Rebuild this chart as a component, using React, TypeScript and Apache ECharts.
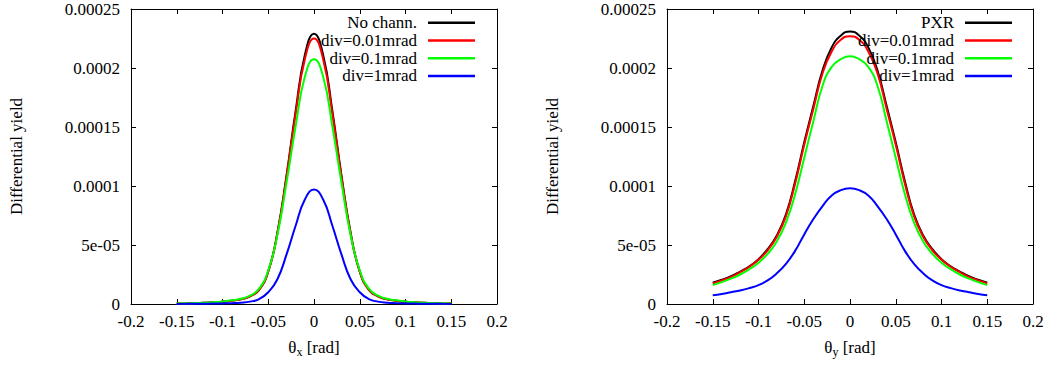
import React, { useEffect, useRef } from "react";
import * as echarts from "echarts";

// Angle grid (rad) for all curves
const theta = [
  -0.15, -0.14, -0.13, -0.12, -0.11, -0.1, -0.09, -0.08, -0.07, -0.06, -0.05, -0.04, -0.03, -0.02, -0.01,
  0,
  0.01, 0.02, 0.03, 0.04, 0.05, 0.06, 0.07, 0.08, 0.09, 0.1, 0.11, 0.12, 0.13, 0.14, 0.15,
];

// Left panel (theta_x)
const noChannX = [
  0.35e-6, 0.5e-6, 0.7e-6, 1.0e-6, 1.4e-6, 2.0e-6, 2.8e-6, 4e-6, 6.5e-6, 12e-6, 27.5e-6, 60.5e-6, 109e-6, 164e-6, 211e-6,
  229e-6,
  211e-6, 164e-6, 109e-6, 60.5e-6, 27.5e-6, 12e-6, 6.5e-6, 4e-6, 2.8e-6, 2.0e-6, 1.4e-6, 1.0e-6, 0.7e-6, 0.5e-6, 0.35e-6,
];
const div001X = [
  0.35e-6, 0.5e-6, 0.7e-6, 1.0e-6, 1.4e-6, 2.0e-6, 2.8e-6, 4e-6, 6.5e-6, 12e-6, 27.5e-6, 60e-6, 108e-6, 161.5e-6, 207.5e-6,
  225e-6,
  207.5e-6, 161.5e-6, 108e-6, 60e-6, 27.5e-6, 12e-6, 6.5e-6, 4e-6, 2.8e-6, 2.0e-6, 1.4e-6, 1.0e-6, 0.7e-6, 0.5e-6, 0.35e-6,
];
const div01X = [
  0.4e-6, 0.55e-6, 0.8e-6, 1.1e-6, 1.55e-6, 2.2e-6, 3.1e-6, 4.4e-6, 7e-6, 13e-6, 28.5e-6, 58.5e-6, 103e-6, 151e-6, 192.5e-6,
  207.5e-6,
  192.5e-6, 151e-6, 103e-6, 58.5e-6, 28.5e-6, 13e-6, 7e-6, 4.4e-6, 3.1e-6, 2.2e-6, 1.55e-6, 1.1e-6, 0.8e-6, 0.55e-6, 0.4e-6,
];
const div1X = [
  0.08e-6, 0.12e-6, 0.18e-6, 0.25e-6, 0.35e-6, 0.5e-6, 0.7e-6, 1.1e-6, 2.0e-6, 4.2e-6, 10e-6, 21e-6, 42e-6, 66.5e-6, 88.5e-6,
  97e-6,
  88.5e-6, 66.5e-6, 42e-6, 21e-6, 10e-6, 4.2e-6, 2.0e-6, 1.1e-6, 0.7e-6, 0.5e-6, 0.35e-6, 0.25e-6, 0.18e-6, 0.12e-6, 0.08e-6,
];

// Right panel (theta_y)
const pxrY = [
  18e-6, 20.5e-6, 23.5e-6, 27.5e-6, 32e-6, 38e-6, 46.5e-6, 58e-6, 76e-6, 104e-6, 137e-6, 168e-6, 198e-6, 217.5e-6, 227.5e-6,
  231e-6,
  227.5e-6, 217.5e-6, 198e-6, 168e-6, 137e-6, 104e-6, 76e-6, 58e-6, 46.5e-6, 38e-6, 32e-6, 27.5e-6, 23.5e-6, 20.5e-6, 18e-6,
];
const div001Y = [
  17.5e-6, 20e-6, 23e-6, 27e-6, 31.5e-6, 37.5e-6, 45.5e-6, 57e-6, 74.5e-6, 102e-6, 135e-6, 165.5e-6, 195.5e-6, 214e-6, 224e-6,
  227e-6,
  224e-6, 214e-6, 195.5e-6, 165.5e-6, 135e-6, 102e-6, 74.5e-6, 57e-6, 45.5e-6, 37.5e-6, 31.5e-6, 27e-6, 23e-6, 20e-6, 17.5e-6,
];
const div01Y = [
  16e-6, 18.5e-6, 21.5e-6, 25e-6, 29.5e-6, 35e-6, 42.5e-6, 53e-6, 69e-6, 93e-6, 124e-6, 155e-6, 185e-6, 201e-6, 207.5e-6,
  210e-6,
  207.5e-6, 201e-6, 185e-6, 155e-6, 124e-6, 93e-6, 69e-6, 53e-6, 42.5e-6, 35e-6, 29.5e-6, 25e-6, 21.5e-6, 18.5e-6, 16e-6,
];
const div1Y = [
  7.5e-6, 8.5e-6, 10e-6, 11.5e-6, 13.5e-6, 16e-6, 20e-6, 26e-6, 34e-6, 45e-6, 59e-6, 72e-6, 83e-6, 92e-6, 96.5e-6,
  98e-6,
  96.5e-6, 92e-6, 83e-6, 72e-6, 59e-6, 45e-6, 34e-6, 26e-6, 20e-6, 16e-6, 13.5e-6, 11.5e-6, 10e-6, 8.5e-6, 7.5e-6,
];

const leftNames = ["No chann.", "div=0.01mrad", "div=0.1mrad", "div=1mrad"];
const rightNames = ["PXR", "div=0.01mrad", "div=0.1mrad", "div=1mrad"];
const colors = ["#000000", "#ff0000", "#00ff00", "#0000ff"];

const xTickLabels = ["-0.2", "-0.15", "-0.1", "-0.05", "0", "0.05", "0.1", "0.15", "0.2"];
const yTickLabels = ["0", "5e-05", "0.0001", "0.00015", "0.0002", "0.00025"];

const X_MIN = -0.2;
const X_MAX = 0.2;
const X_STEP = 0.05;
const Y_MIN = 0;
const Y_MAX = 0.00025;
const Y_STEP = 0.00005;

const FONT = "Liberation Serif";
const FS = 17;

export default function App() {
  const ref = useRef<HTMLDivElement>(null);

  useEffect(() => {
    if (!ref.current) return;
    const chart = echarts.init(ref.current, undefined, { renderer: "svg" });

    const lineColor = "#000";
    const makeX = (gridIndex: number, position: "bottom" | "top", main: boolean, axisLabelName: string) => ({
      type: "value" as const,
      gridIndex,
      position,
      min: X_MIN,
      max: X_MAX,
      interval: X_STEP,
      name: main ? axisLabelName : "",
      nameLocation: "middle" as const,
      nameGap: 33,
      nameTextStyle: {
        color: "#000",
        fontFamily: FONT,
        fontSize: FS,
        rich: {
          t: { fontFamily: FONT, fontSize: FS, color: "#000", verticalAlign: "middle" },
          s: { fontFamily: FONT, fontSize: 12, color: "#000", verticalAlign: "middle", padding: [9, 0, 0, 0] },
        },
      },
      axisLine: { show: true, onZero: false, lineStyle: { color: lineColor, width: 1 } },
      axisTick: { show: true, inside: true, length: 5, lineStyle: { color: lineColor, width: 1 } },
      axisLabel: {
        show: main,
        margin: 9,
        color: "#000",
        fontFamily: FONT,
        fontSize: FS,
        formatter: (v: number) => xTickLabels[Math.round((v - X_MIN) / X_STEP)] ?? "",
      },
      splitLine: { show: false },
    });

    const makeY = (gridIndex: number, position: "left" | "right", main: boolean) => ({
      type: "value" as const,
      gridIndex,
      position,
      min: Y_MIN,
      max: Y_MAX,
      interval: Y_STEP,
      name: main ? "Differential yield" : "",
      nameLocation: "middle" as const,
      nameGap: 106,
      nameTextStyle: { color: "#000", fontFamily: FONT, fontSize: FS },
      axisLine: { show: true, onZero: false, lineStyle: { color: lineColor, width: 1 } },
      axisTick: { show: true, inside: true, length: 5, lineStyle: { color: lineColor, width: 1 } },
      axisLabel: {
        show: main,
        margin: 11,
        color: "#000",
        fontFamily: FONT,
        fontSize: FS,
        formatter: (v: number) => yTickLabels[Math.round((v - Y_MIN) / Y_STEP)] ?? "",
      },
      splitLine: { show: false },
    });

    const mk = (name: string, ys: number[], color: string, axis: number) => ({
      type: "line" as const,
      name,
      xAxisIndex: axis,
      yAxisIndex: axis,
      data: theta.map((t, i) => [t, ys[i]]),
      smooth: 0.5,
      symbol: "none",
      showSymbol: false,
      lineStyle: { color, width: 2 },
      itemStyle: { color },
      z: 2,
    });

    const leftData = [noChannX, div001X, div01X, div1X];
    const rightData = [pxrY, div001Y, div01Y, div1Y];

    const legendBase = {
      orient: "vertical" as const,
      align: "right" as const,
      top: 14,
      padding: 0,
      itemGap: 0,
      itemWidth: 47,
      itemHeight: 2.5,
      icon: "rect",
      selectedMode: false,
      textStyle: {
        color: "#000",
        fontFamily: FONT,
        fontSize: FS,
        lineHeight: 17.7,
        padding: [0, 6, 0, 0],
      },
    };

    chart.setOption({
      animation: false,
      backgroundColor: "#ffffff",
      textStyle: { fontFamily: FONT, fontSize: FS, color: "#000" },
      grid: [
        { left: 131, right: 553, top: 9, bottom: 62, containLabel: false },
        { left: 667, right: 17, top: 9, bottom: 62, containLabel: false },
      ],
      xAxis: [
        makeX(0, "bottom", true, "{t|θ}{s|x}{t| [rad]}"),
        makeX(0, "top", false, ""),
        makeX(1, "bottom", true, "{t|θ}{s|y}{t| [rad]}"),
        makeX(1, "top", false, ""),
      ],
      yAxis: [makeY(0, "left", true), makeY(0, "right", false), makeY(1, "left", true), makeY(1, "right", false)],
      legend: [
        { ...legendBase, right: 575, data: leftNames },
        { ...legendBase, right: 38, data: rightNames },
      ],
      series: [
        ...leftNames.map((n, i) => mk(n, leftData[i], colors[i], 0)),
        ...rightNames.map((n, i) => mk(n, rightData[i], colors[i], 2)),
      ],
    });

    return () => chart.dispose();
  }, []);

  return (
    <div
      ref={ref}
      style={{ position: "absolute", left: 0, top: 0, width: 1050, height: 366, background: "#fff" }}
    />
  );
}
